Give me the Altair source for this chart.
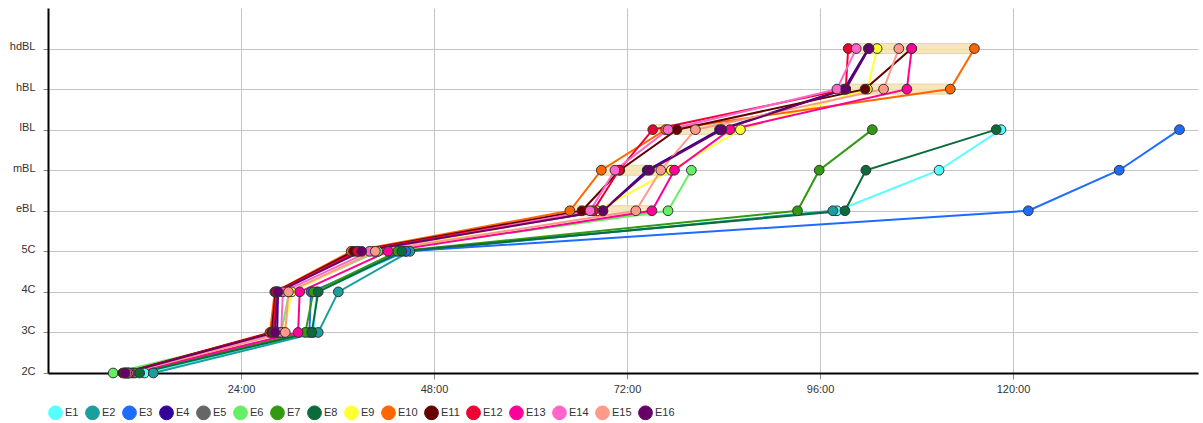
import altair as alt
import pandas as pd

stages = ["2C", "3C", "4C", "5C", "eBL", "mBL", "lBL", "hBL", "hdBL"]
series = ["E1", "E2", "E3", "E4", "E5", "E6", "E7", "E8",
          "E9", "E10", "E11", "E12", "E13", "E14", "E15", "E16"]
colors = ["#55FFFF", "#1A9E9E", "#1E6BFF", "#330099", "#666666", "#66EE66",
          "#339911", "#0B6B3A", "#FFFF33", "#FF6600", "#660000", "#EE0033",
          "#FF0099", "#FF66CC", "#FF9988", "#660066"]

# time (hours) at which each embryo reached each stage (2C ... hdBL)
E1 = [12.0, 33.0, 33.4, 44.5, 98.1, 110.8, 118.5]
E2 = [13.1, 33.6, 36.1, 45.0, 97.6]
E3 = [10.5, 32.5, 32.7, 44.5, 121.9, 133.2, 140.7]
E4 = [9.8, 28.5, 28.6, 38.5, 69.0, 74.5, 83.5, 99.0, 102.0]
E5 = []
E6 = [8.1, 29.0, 30.0, 41.0, 77.1, 80.0]
E7 = [10.8, 32.0, 33.0, 43.5, 93.2, 95.9, 102.5]
E8 = [11.4, 32.8, 33.6, 44.0, 99.1, 101.7, 117.9]
E9 = [10.0, 29.3, 30.3, 40.5, 68.3, 77.5, 86.1, 101.9, 103.1]
E10 = [9.6, 27.6, 28.2, 37.7, 64.9, 68.8, 76.8, 112.2, 115.2]
E11 = [9.3, 27.8, 28.3, 38.0, 66.4, 71.1, 78.2, 101.6, 107.4]
E12 = [9.5, 28.0, 28.4, 38.5, 67.8, 71.0, 75.2, 99.2, 99.5]
E13 = [10.2, 31.1, 31.3, 42.3, 75.1, 77.9, 84.8, 106.8, 107.4]
E14 = [10.0, 29.0, 29.2, 40.0, 67.4, 70.5, 77.1, 98.1, 100.5]
E15 = [9.8, 29.5, 29.9, 40.7, 73.1, 76.2, 80.5, 103.9, 105.8]
E16 = [9.6, 28.2, 28.6, 39.0, 69.0, 74.8, 83.8, 99.2, 102.1]
all_times = [E1, E2, E3, E4, E5, E6, E7, E8, E9, E10, E11, E12, E13, E14, E15, E16]

# range bands per stage
band_stage = [4, 5, 6, 7, 8]
band_start = [64.9, 68.8, 75.2, 98.1, 99.5]
band_end = [75.1, 78.0, 86.1, 112.2, 115.2]

rows = []
for si, (name, times) in enumerate(zip(series, all_times)):
    for k, t in enumerate(times):
        rows.append({"series": name, "order": si, "stage": k, "time": t})
df = pd.DataFrame(rows)
bands = pd.DataFrame({"stage": band_stage, "start": band_start, "end": band_end})

xscale = alt.Scale(domain=[0, 143], nice=False, zero=False, padding=0)
yscale = alt.Scale(domain=[0, 9], nice=False, padding=0)
cscale = alt.Scale(domain=series, range=colors)

label_expr = "[" + ",".join("'%s'" % s for s in stages) + "][datum.value]"

xaxis = alt.Axis(values=[24, 48, 72, 96, 120], labelExpr="datum.value + ':00'",
                 title=None, grid=True, gridColor="#c4c4c4", gridWidth=1,
                 domainColor="#000000", domainWidth=2, tickColor="#888888",
                 tickSize=6, labelFontSize=11, labelColor="#333333", labelPadding=4)
yaxis = alt.Axis(values=list(range(9)), labelExpr=label_expr, title=None,
                 grid=True, gridColor="#c4c4c4", gridWidth=1,
                 domainColor="#000000", domainWidth=2, tickColor="#888888",
                 tickSize=5, labelFontSize=11, labelColor="#333333",
                 labelPadding=8, labelBaseline="alphabetic", labelOffset=1)

legend = alt.Legend(title=None, orient="none", legendX=0, legendY=397,
                    direction="horizontal", columns=16,
                    symbolType="circle", symbolSize=190,
                    symbolStrokeColor="#333333", symbolStrokeWidth=1,
                    symbolOpacity=1,
                    labelFontSize=11, labelColor="#333333", columnPadding=4,
                    labelOffset=2, padding=0)

band_layer = alt.Chart(bands).mark_bar(size=10, color="#F6E2B0", stroke="#E6CC90",
                                       strokeWidth=1, opacity=0.85).encode(
    x=alt.X("start:Q", scale=xscale, axis=xaxis),
    x2="end:Q",
    y=alt.Y("stage:Q", scale=yscale, axis=yaxis),
)

line_layer = alt.Chart(df).mark_line(strokeWidth=2).encode(
    x=alt.X("time:Q", scale=xscale),
    y=alt.Y("stage:Q", scale=yscale),
    color=alt.Color("series:N", scale=cscale, legend=legend),
    detail="series:N",
    order="stage:Q",
)

point_layer = alt.Chart(df).mark_point(filled=True, size=95, stroke="#333333",
                                       strokeWidth=1, opacity=1).encode(
    x=alt.X("time:Q", scale=xscale),
    y=alt.Y("stage:Q", scale=yscale),
    color=alt.Color("series:N", scale=cscale, legend=legend),
    order="order:Q",
)

chart = alt.layer(band_layer, line_layer, point_layer).properties(
    width=1150, height=365,
    padding={"left": 48, "top": 8, "right": 5, "bottom": 50},
    autosize=alt.AutoSizeParams(type="none"),
    background="white",
).configure_view(stroke=None).configure_axis(labelFont="Liberation Sans").configure_legend(labelFont="Liberation Sans")

chart.save("out.html", embed_options={"renderer": "svg", "actions": False})
